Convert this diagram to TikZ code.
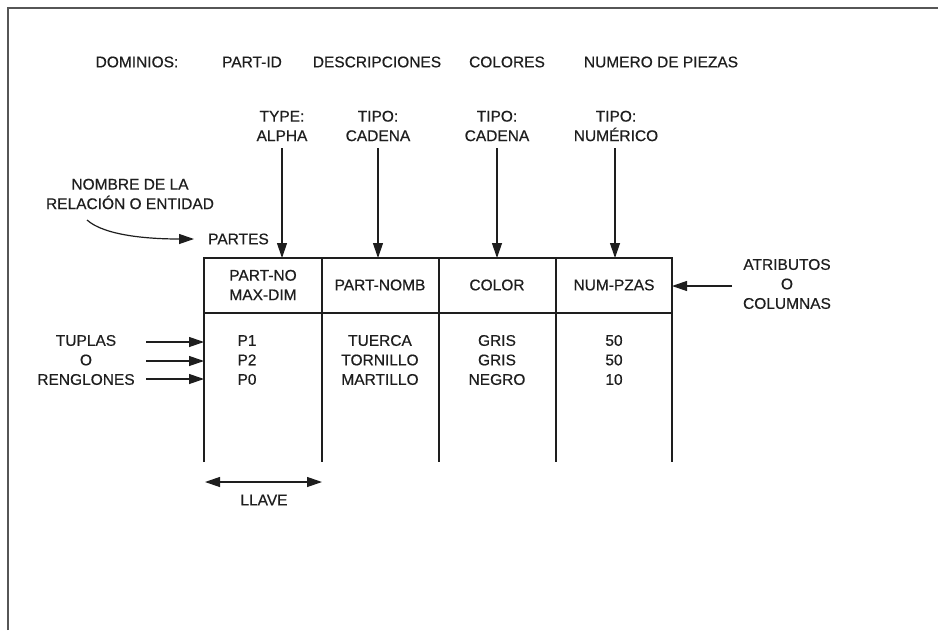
\documentclass[tikz,border=0pt]{standalone}
\usepackage{fontspec}
\setmainfont[FakeBold=0.5]{Liberation Sans}
\usetikzlibrary{arrows.meta}
\definecolor{ink}{HTML}{1E1E1E}
\tikzset{
  lbl/.style={text=ink,inner sep=0pt,align=center,font=\fontsize{15.5}{19.5}\selectfont},
  ln/.style={draw=ink,line width=1.2pt},
  arr/.style={ln,-{Triangle[length=15pt,width=10pt]}},
  darr/.style={ln,{Triangle[length=15pt,width=10pt]}-{Triangle[length=15pt,width=10pt]}},
}
\begin{document}
\begin{tikzpicture}[x=1pt,y=-1pt]
\useasboundingbox[fill=white] (0,0) rectangle (938,630);
% frame
\draw[draw=ink!75,line width=1.8pt] (8,630) coordinate (fbl) -- (8,8) coordinate (ftl) -- (938,8) coordinate (ftr);
% domains
\node[lbl] (dom) at (137,62) {DOMINIOS:};
\node[lbl] (d1) at (252,62) {PART-ID};
\node[lbl] (d2) at (377,62) {DESCRIPCIONES};
\node[lbl] (d3) at (507,62) {COLORES};
\node[lbl] (d4) at (661,62) {NUMERO DE PIEZAS};
% types
\node[lbl] (t1) at (282,126) {TYPE:\\ALPHA};
\node[lbl] (t2) at (378,126) {TIPO:\\CADENA};
\node[lbl] (t3) at (497,126) {TIPO:\\CADENA};
\node[lbl] (t4) at (616,126) {TIPO:\\NUMÉRICO};
% table geometry
\coordinate (a1) at (282,258);
\coordinate (a2) at (378,258);
\coordinate (a3) at (497,258);
\coordinate (a4) at (615,258);
\draw[arr] (282,148) -- (a1);
\draw[arr] (378,148) -- (a2);
\draw[arr] (497,148) -- (a3);
\draw[arr] (615,148) -- (a4);
% table
\draw[ln] (204,462) -- (204,258) -- (672,258) -- (672,462);
\draw[ln] (204,313) -- (672,313);
\draw[ln] (322,258) -- (322,462);
\draw[ln] (439,258) -- (439,462);
\draw[ln] (556,258) -- (556,462);
% header
\node[lbl] (h1) at (263,285) {PART-NO\\MAX-DIM};
\node[lbl] (h2) at (380,285) {PART-NOMB};
\node[lbl] (h3) at (497,285) {COLOR};
\node[lbl] (h4) at (614,285) {NUM-PZAS};
% rows
\node[lbl] (c1) at (247,360) {P1\\P2\\P0};
\node[lbl] (c2) at (380,360) {TUERCA\\TORNILLO\\MARTILLO};
\node[lbl] (c3) at (497,360) {GRIS\\GRIS\\NEGRO};
\node[lbl] (c4) at (614,360) {50\\50\\10};
% entity name
\node[lbl] (nom) at (130,194) {NOMBRE DE LA\\RELACIÓN O ENTIDAD};
\node[lbl,anchor=west] (partes) at (208,239) {PARTES};
\coordinate (cs) at (87,220);
\draw[arr,shorten >=14pt] (cs) .. controls (105,236) and (150,239) .. (partes.west);
% tuples
\node[lbl] (tup) at (86,360) {TUPLAS\\O\\RENGLONES};
\coordinate (r1) at (204,342);
\coordinate (r2) at (204,361);
\coordinate (r3) at (204,379);
\draw[arr] (146,342) -- (r1);
\draw[arr] (146,361) -- (r2);
\draw[arr] (146,379) -- (r3);
% attributes
\node[lbl] (atr) at (787,284) {ATRIBUTOS\\O\\COLUMNAS};
\coordinate (ae) at (672,286);
\draw[arr] (732,286) -- (ae);
% key
\coordinate (k1) at (205,482);
\coordinate (k2) at (322,482);
\draw[darr] (k1) -- (k2);
\node[lbl] (key) at (264,500) {LLAVE};
\end{tikzpicture}
\end{document}
